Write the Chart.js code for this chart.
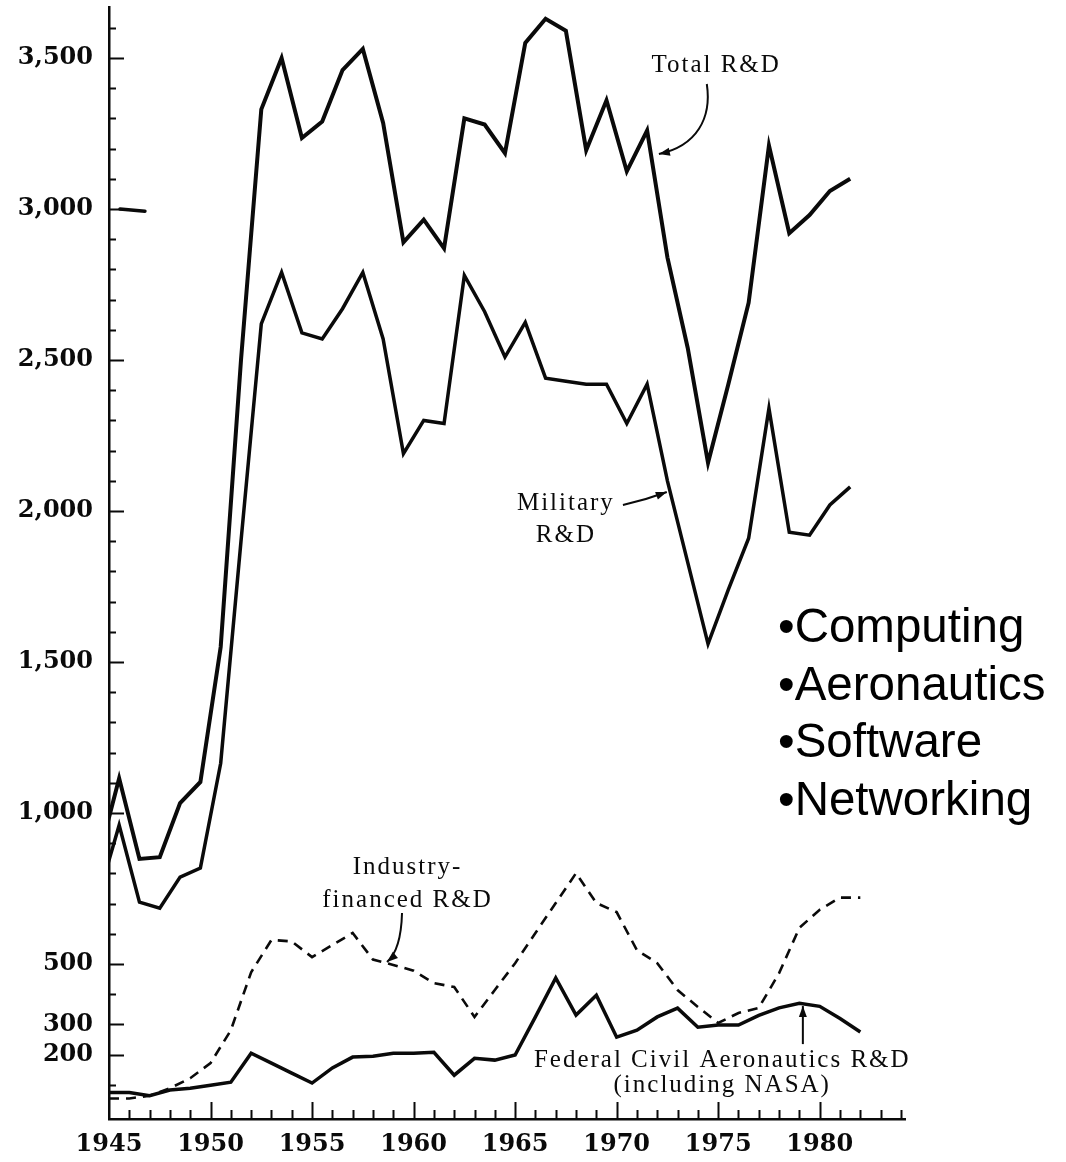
<!DOCTYPE html>
<html>
<head>
<meta charset="utf-8">
<script src="https://cdn.jsdelivr.net/npm/chart.js@4.4.1/dist/chart.umd.min.js"></script>
<style>
  html, body { margin: 0; padding: 0; background: #fff; }
  #wrap { position: relative; width: 1066px; height: 1162px; }
  #bullets {
    position: absolute; left: 778px; top: 597px;
    font-family: "Liberation Sans", Arial, sans-serif;
    font-size: 47.5px; line-height: 57.5px; color: #000;
  }
</style>
</head>
<body>
<div id="wrap">
  <canvas id="rdChart" width="1066" height="1162"></canvas>
  <div id="bullets">•Computing<br>•Aeronautics<br>•Software<br>•Networking</div>
</div>
<script>
// upper two curves are fiscal-year values, drawn at the middle of the year
const fiscalYears = [1944, 1945, 1946, 1947, 1948, 1949, 1950, 1951, 1952, 1953,
  1954, 1955, 1956, 1957, 1958, 1959, 1960, 1961, 1962, 1963,
  1964, 1965, 1966, 1967, 1968, 1969, 1970, 1971, 1972, 1973,
  1974, 1975, 1976, 1977, 1978, 1979, 1980, 1981];
const totalRD = [855, 1115, 848, 854, 1033, 1103, 1550, 2500, 3330, 3500,
  3235, 3290, 3460, 3530, 3285, 2890, 2965, 2870, 3300, 3280,
  3185, 3550, 3630, 3590, 3195, 3360, 3125, 3260, 2840, 2540,
  2160, 2420, 2690, 3210, 2920, 2980, 3060, 3100];
const militaryRD = [728, 960, 705, 685, 788, 818, 1165, 1900, 2620, 2790,
  2590, 2570, 2670, 2790, 2570, 2190, 2300, 2290, 2780, 2660,
  2510, 2625, 2440, 2430, 2420, 2420, 2290, 2420, 2100, 1830,
  1560, 1740, 1910, 2340, 1930, 1920, 2020, 2080];

// lower two curves sit on the year marks
const calendarYears = [1945, 1946, 1947, 1948, 1949, 1950, 1951, 1952, 1953, 1954,
  1955, 1956, 1957, 1958, 1959, 1960, 1961, 1962, 1963, 1964,
  1965, 1966, 1967, 1968, 1969, 1970, 1971, 1972, 1973, 1974,
  1975, 1976, 1977, 1978, 1979, 1980, 1981, 1982];
const industryRD = [55, 55, 64, 89, 122, 172, 281, 473, 580, 575,
  523, 563, 603, 515, 497, 478, 437, 424, 325, 414,
  503, 603, 702, 801, 702, 672, 546, 503, 414, 358,
  305, 338, 355, 470, 620, 680, 720, 720];
const federalCivilAero = [75, 75, 64, 83, 89, 99, 109, 205, 172, 139,
  106, 156, 192, 195, 205, 205, 208, 132, 188, 182,
  199, 325, 454, 331, 397, 258, 281, 325, 354, 291,
  298, 298, 330, 355, 370, 360, 320, 275];

const xTickLabels = [1945, 1950, 1955, 1960, 1965, 1970, 1975, 1980];
const yTickLabels = [200, 300, 500, 1000, 1500, 2000, 2500, 3000, 3500];

const FISCAL_MID = 0.5;
const INK = '#0a0a0a';
const SERIF = '"DejaVu Serif", "Liberation Serif", serif';
const NOTE_FONT = '25px "Liberation Serif", "Times New Roman", serif';

// minor tick marks, one per year and one per 100
const xTickMarks = Array.from({ length: 39 }, (_, i) => 1946 + i);
const yTickMarks = Array.from({ length: 36 }, (_, i) => 100 + i * 100);

// labels and arrows, placed in data units
const notes = [
  { lines: ['Total R&D'], x: 1974.9, y: 3477, gap: 0 },
  { lines: ['Military', 'R&D'], x: 1967.5, y: 2026, gap: 32 },
  { lines: ['Industry-', 'financed R&D'], x: 1959.7, y: 821, gap: 33 },
  { lines: ['Federal Civil Aeronautics R&D', '(including NASA)'], x: 1975.2, y: 182, gap: 25 }
];
const arrows = [
  { pts: [[1974.44, 3414], [1974.69, 3301], [1973.95, 3209], [1972.08, 3182]] },
  { pts: [[1970.31, 2020], [1971.39, 2036], [1972.47, 2063]] },
  { pts: [[1959.43, 669], [1959.38, 546], [1958.69, 507]] },
  { pts: [[1979.17, 235], [1979.17, 361]] }
];
const scanMark = [[1945.54, 3000], [1946.77, 2993]];

const inwardTicks = {
  id: 'inwardTicks',
  afterDraw(chart) {
    const { ctx, chartArea, scales: { x, y } } = chart;
    ctx.save();
    ctx.strokeStyle = INK;
    ctx.lineWidth = 2;
    ctx.beginPath();
    yTickMarks.forEach(v => {
      const py = Math.round(y.getPixelForValue(v)) + 0.5;
      const len = yTickLabels.includes(v) ? 15 : 7;
      ctx.moveTo(chartArea.left, py);
      ctx.lineTo(chartArea.left + len, py);
    });
    xTickMarks.forEach(v => {
      const px = Math.round(x.getPixelForValue(v)) + 0.5;
      const len = xTickLabels.includes(v) ? 17 : 9;
      ctx.moveTo(px, chartArea.bottom);
      ctx.lineTo(px, chartArea.bottom - len);
    });
    ctx.stroke();
    ctx.restore();
  }
};

function drawHead(ctx, fromX, fromY, toX, toY) {
  const a = Math.atan2(toY - fromY, toX - fromX);
  ctx.beginPath();
  ctx.moveTo(toX, toY);
  ctx.lineTo(toX - 11 * Math.cos(a) + 4 * Math.sin(a), toY - 11 * Math.sin(a) - 4 * Math.cos(a));
  ctx.lineTo(toX - 11 * Math.cos(a) - 4 * Math.sin(a), toY - 11 * Math.sin(a) + 4 * Math.cos(a));
  ctx.closePath();
  ctx.fill();
}

const notesPlugin = {
  id: 'notes',
  afterDraw(chart) {
    const { ctx, scales: { x, y } } = chart;
    const px = p => [x.getPixelForValue(p[0]), y.getPixelForValue(p[1])];
    ctx.save();
    ctx.fillStyle = INK;
    ctx.strokeStyle = INK;
    ctx.font = NOTE_FONT;
    ctx.letterSpacing = '2px';
    ctx.textAlign = 'center';
    ctx.textBaseline = 'middle';
    notes.forEach(n => {
      n.lines.forEach((t, i) => {
        ctx.fillText(t, x.getPixelForValue(n.x), y.getPixelForValue(n.y) + i * n.gap);
      });
    });
    ctx.lineWidth = 2;
    arrows.forEach(a => {
      const p = a.pts.map(px);
      ctx.beginPath();
      ctx.moveTo(p[0][0], p[0][1]);
      if (p.length === 4) ctx.bezierCurveTo(p[1][0], p[1][1], p[2][0], p[2][1], p[3][0], p[3][1]);
      else if (p.length === 3) ctx.quadraticCurveTo(p[1][0], p[1][1], p[2][0], p[2][1]);
      else ctx.lineTo(p[1][0], p[1][1]);
      ctx.stroke();
      const n = p.length;
      drawHead(ctx, p[n - 2][0], p[n - 2][1], p[n - 1][0], p[n - 1][1]);
    });
    const m = scanMark.map(px);
    ctx.lineWidth = 3.5;
    ctx.lineCap = 'round';
    ctx.beginPath();
    ctx.moveTo(m[0][0], m[0][1]);
    ctx.lineTo(m[1][0], m[1][1]);
    ctx.stroke();
    ctx.restore();
  }
};

function series(years, values, shift) {
  return years.map((yr, i) => ({ x: yr + shift, y: values[i] }));
}

const ctx = document.getElementById('rdChart').getContext('2d');
new Chart(ctx, {
  type: 'line',
  data: {
    datasets: [
      {
        label: 'Total R&D',
        data: series(fiscalYears, totalRD, FISCAL_MID),
        borderColor: INK,
        borderWidth: 4
      },
      {
        label: 'Military R&D',
        data: series(fiscalYears, militaryRD, FISCAL_MID),
        borderColor: INK,
        borderWidth: 3.5
      },
      {
        label: 'Industry-financed R&D',
        data: series(calendarYears, industryRD, 0),
        borderColor: INK,
        borderWidth: 2.6,
        borderDash: [10, 7]
      },
      {
        label: 'Federal Civil Aeronautics R&D (including NASA)',
        data: series(calendarYears, federalCivilAero, 0),
        borderColor: INK,
        borderWidth: 3.5
      }
    ]
  },
  options: {
    responsive: false,
    animation: false,
    devicePixelRatio: 1,
    layout: { padding: { top: 7, right: 161, left: 0, bottom: 0 } },
    elements: {
      point: { radius: 0 },
      line: { tension: 0, borderJoinStyle: 'miter', borderCapStyle: 'butt', fill: false }
    },
    plugins: {
      legend: { display: false },
      tooltip: { enabled: false }
    },
    scales: {
      x: {
        type: 'linear',
        min: 1945,
        max: 1984.2,
        grid: { display: false, drawTicks: false },
        border: { display: true, color: INK, width: 2.5 },
        afterBuildTicks: s => { s.ticks = xTickLabels.map(v => ({ value: v })); },
        afterFit: s => { s.height = 43; s.paddingLeft = 0; s.paddingRight = 0; },
        ticks: {
          color: INK,
          padding: 11,
          maxRotation: 0,
          autoSkip: false,
          font: { family: SERIF, size: 24, weight: 'bold' },
          callback: v => String(v)
        }
      },
      y: {
        type: 'linear',
        min: -13,
        max: 3669,
        grid: { display: false, drawTicks: false },
        border: { display: true, color: INK, width: 2.5 },
        afterBuildTicks: s => { s.ticks = yTickLabels.map(v => ({ value: v })); },
        afterFit: s => { s.width = 109; s.paddingTop = 0; s.paddingBottom = 0; },
        ticks: {
          color: INK,
          padding: 16,
          autoSkip: false,
          font: { family: SERIF, size: 24, weight: 'bold' },
          callback: v => v.toLocaleString('en-US')
        }
      }
    }
  },
  plugins: [inwardTicks, notesPlugin]
});
</script>
</body>
</html>
